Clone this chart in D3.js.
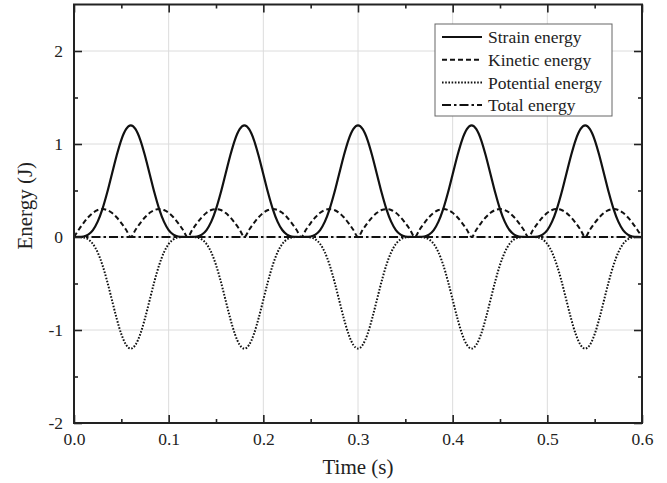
<!DOCTYPE html>
<html>
<head>
<meta charset="utf-8">
<script src="https://cdn.jsdelivr.net/npm/d3@7"></script>
<style>
  body { margin: 0; background: #fff; }
  svg { display: block; font-family: "Liberation Serif", "Times New Roman", "DejaVu Serif", serif; }
  .tick text { font-size: 17.5px; fill: #222; }
</style>
</head>
<body>
<svg id="chart" width="667" height="483"></svg>
<script>
// sampling grid (s), every 0.005 s
const time = d3.range(0, 121).map(i => +(i * 0.005).toFixed(3));

// energies (J) at each time sample
const strainEnergy = [
  0, 0.0003, 0.005, 0.026, 0.075, 0.165, 0.30, 0.475, 0.675, 0.874, 1.045, 1.159, 1.2, 1.159, 1.045, 0.874, 0.675, 0.475, 0.30, 0.165, 0.075, 0.026, 0.005, 0.0003,
  0, 0.0003, 0.005, 0.026, 0.075, 0.165, 0.30, 0.475, 0.675, 0.874, 1.045, 1.159, 1.2, 1.159, 1.045, 0.874, 0.675, 0.475, 0.30, 0.165, 0.075, 0.026, 0.005, 0.0003,
  0, 0.0003, 0.005, 0.026, 0.075, 0.165, 0.30, 0.475, 0.675, 0.874, 1.045, 1.159, 1.2, 1.159, 1.045, 0.874, 0.675, 0.475, 0.30, 0.165, 0.075, 0.026, 0.005, 0.0003,
  0, 0.0003, 0.005, 0.026, 0.075, 0.165, 0.30, 0.475, 0.675, 0.874, 1.045, 1.159, 1.2, 1.159, 1.045, 0.874, 0.675, 0.475, 0.30, 0.165, 0.075, 0.026, 0.005, 0.0003,
  0, 0.0003, 0.005, 0.026, 0.075, 0.165, 0.30, 0.475, 0.675, 0.874, 1.045, 1.159, 1.2, 1.159, 1.045, 0.874, 0.675, 0.475, 0.30, 0.165, 0.075, 0.026, 0.005, 0.0003,
  0
];

const kineticEnergy = [
  0, 0.078, 0.15, 0.212, 0.26, 0.29, 0.3, 0.29, 0.26, 0.212, 0.15, 0.078,
  0, 0.078, 0.15, 0.212, 0.26, 0.29, 0.3, 0.29, 0.26, 0.212, 0.15, 0.078,
  0, 0.078, 0.15, 0.212, 0.26, 0.29, 0.3, 0.29, 0.26, 0.212, 0.15, 0.078,
  0, 0.078, 0.15, 0.212, 0.26, 0.29, 0.3, 0.29, 0.26, 0.212, 0.15, 0.078,
  0, 0.078, 0.15, 0.212, 0.26, 0.29, 0.3, 0.29, 0.26, 0.212, 0.15, 0.078,
  0, 0.078, 0.15, 0.212, 0.26, 0.29, 0.3, 0.29, 0.26, 0.212, 0.15, 0.078,
  0, 0.078, 0.15, 0.212, 0.26, 0.29, 0.3, 0.29, 0.26, 0.212, 0.15, 0.078,
  0, 0.078, 0.15, 0.212, 0.26, 0.29, 0.3, 0.29, 0.26, 0.212, 0.15, 0.078,
  0, 0.078, 0.15, 0.212, 0.26, 0.29, 0.3, 0.29, 0.26, 0.212, 0.15, 0.078,
  0, 0.078, 0.15, 0.212, 0.26, 0.29, 0.3, 0.29, 0.26, 0.212, 0.15, 0.078,
  0
];

const potentialEnergy = [
  0, -0.0003, -0.005, -0.026, -0.075, -0.165, -0.30, -0.475, -0.675, -0.874, -1.045, -1.159, -1.2, -1.159, -1.045, -0.874, -0.675, -0.475, -0.30, -0.165, -0.075, -0.026, -0.005, -0.0003,
  0, -0.0003, -0.005, -0.026, -0.075, -0.165, -0.30, -0.475, -0.675, -0.874, -1.045, -1.159, -1.2, -1.159, -1.045, -0.874, -0.675, -0.475, -0.30, -0.165, -0.075, -0.026, -0.005, -0.0003,
  0, -0.0003, -0.005, -0.026, -0.075, -0.165, -0.30, -0.475, -0.675, -0.874, -1.045, -1.159, -1.2, -1.159, -1.045, -0.874, -0.675, -0.475, -0.30, -0.165, -0.075, -0.026, -0.005, -0.0003,
  0, -0.0003, -0.005, -0.026, -0.075, -0.165, -0.30, -0.475, -0.675, -0.874, -1.045, -1.159, -1.2, -1.159, -1.045, -0.874, -0.675, -0.475, -0.30, -0.165, -0.075, -0.026, -0.005, -0.0003,
  0, -0.0003, -0.005, -0.026, -0.075, -0.165, -0.30, -0.475, -0.675, -0.874, -1.045, -1.159, -1.2, -1.159, -1.045, -0.874, -0.675, -0.475, -0.30, -0.165, -0.075, -0.026, -0.005, -0.0003,
  0
];

// total energy stays at zero
const totalTime = [0, 0.1, 0.2, 0.3, 0.4, 0.5, 0.6];
const totalEnergy = [0, 0, 0, 0, 0, 0, 0];

const xTicks = [0, 0.1, 0.2, 0.3, 0.4, 0.5, 0.6];
const xMinor = [0.05, 0.15, 0.25, 0.35, 0.45, 0.55];
const yTicks = [-2, -1, 0, 1, 2];
const yMinor = [-1.5, -0.5, 0.5, 1.5];

const seriesNames = ["Strain energy", "Kinetic energy", "Potential energy", "Total energy"];
const dashes = [null, "5,3", "1.6,1.6", "9,3,2.5,3"];

const W = 667, H = 483;
const margin = {top: 4.5, right: 25, bottom: 60, left: 74};
const serif = "'Liberation Serif', 'Times New Roman', 'DejaVu Serif', serif";

const svg = d3.select("#chart");

const x = d3.scaleLinear().domain([0, 0.6]).range([margin.left, W - margin.right]);
const y = d3.scaleLinear().domain([-2, 2.5]).range([H - margin.bottom, margin.top]);

// grid
svg.append("g")
  .selectAll("line")
  .data(xTicks.slice(1, -1))
  .enter()
  .append("line")
  .attr("x1", d => x(d)).attr("x2", d => x(d))
  .attr("y1", y(-2)).attr("y2", y(2.5))
  .attr("stroke", "#dcdcdc").attr("stroke-width", 1);

svg.append("g")
  .selectAll("line")
  .data(yTicks.slice(1))
  .enter()
  .append("line")
  .attr("x1", x(0)).attr("x2", x(0.6))
  .attr("y1", d => y(d)).attr("y2", d => y(d))
  .attr("stroke", "#dcdcdc").attr("stroke-width", 1);

// curves
const seriesData = [
  time.map((t, i) => [t, strainEnergy[i]]),
  time.map((t, i) => [t, kineticEnergy[i]]),
  time.map((t, i) => [t, potentialEnergy[i]]),
  totalTime.map((t, i) => [t, totalEnergy[i]])
];

const line = d3.line()
  .x(d => x(d[0]))
  .y(d => y(d[1]))
  .curve(d3.curveMonotoneX);

seriesData.forEach((s, i) => {
  svg.append("path")
    .datum(s)
    .attr("d", line)
    .attr("fill", "none")
    .attr("stroke", "#111")
    .attr("stroke-width", i === 0 ? 2.2 : 2)
    .attr("stroke-dasharray", dashes[i]);
});

// axes, ticks pointing inward on all four sides
function styleAxis(g) {
  g.attr("font-family", serif).attr("font-size", null);
  g.select(".domain").remove();
  g.selectAll(".tick line").attr("stroke", "#222").attr("stroke-width", 1.6);
}

const fmtX = d3.format(".1f");
const fmtY = d => String(d);

svg.append("g")
  .attr("transform", `translate(0,${y(-2)})`)
  .call(d3.axisBottom(x).tickValues(xTicks).tickSize(-8).tickFormat(fmtX))
  .call(styleAxis)
  .call(g => g.selectAll(".tick text").attr("dy", "0.71em").attr("y", 10));

svg.append("g")
  .attr("transform", `translate(0,${y(-2)})`)
  .call(d3.axisBottom(x).tickValues(xMinor).tickSize(-4).tickFormat(""))
  .call(styleAxis);

svg.append("g")
  .attr("transform", `translate(0,${y(2.5)})`)
  .call(d3.axisTop(x).tickValues(xTicks).tickSize(-8).tickFormat(""))
  .call(styleAxis);

svg.append("g")
  .attr("transform", `translate(0,${y(2.5)})`)
  .call(d3.axisTop(x).tickValues(xMinor).tickSize(-4).tickFormat(""))
  .call(styleAxis);

svg.append("g")
  .attr("transform", `translate(${x(0)},0)`)
  .call(d3.axisLeft(y).tickValues(yTicks).tickSize(-8).tickFormat(fmtY))
  .call(styleAxis)
  .call(g => g.selectAll(".tick text").attr("x", -11));

svg.append("g")
  .attr("transform", `translate(${x(0)},0)`)
  .call(d3.axisLeft(y).tickValues(yMinor).tickSize(-4).tickFormat(""))
  .call(styleAxis);

svg.append("g")
  .attr("transform", `translate(${x(0.6)},0)`)
  .call(d3.axisRight(y).tickValues(yTicks).tickSize(-8).tickFormat(""))
  .call(styleAxis);

svg.append("g")
  .attr("transform", `translate(${x(0.6)},0)`)
  .call(d3.axisRight(y).tickValues(yMinor).tickSize(-4).tickFormat(""))
  .call(styleAxis);

// frame
svg.append("rect")
  .attr("x", x(0)).attr("y", y(2.5))
  .attr("width", x(0.6) - x(0)).attr("height", y(-2) - y(2.5))
  .attr("fill", "none").attr("stroke", "#222").attr("stroke-width", 2);

// axis titles
svg.append("text")
  .attr("x", (x(0) + x(0.6)) / 2)
  .attr("y", 474)
  .attr("text-anchor", "middle")
  .attr("font-family", serif)
  .style("font-size", "21px").attr("fill", "#222")
  .text("Time (s)");

svg.append("text")
  .attr("transform", `translate(32,${(y(-2) + y(2.5)) / 2 - 8}) rotate(-90)`)
  .attr("text-anchor", "middle")
  .attr("font-family", serif)
  .style("font-size", "21px").attr("fill", "#222")
  .text("Energy (J)");

// legend
const legend = svg.append("g").attr("transform", "translate(435,24)");

legend.append("rect")
  .attr("width", 177).attr("height", 92)
  .attr("fill", "#fff").attr("stroke", "#666").attr("stroke-width", 1);

seriesNames.forEach((name, i) => {
  const row = legend.append("g").attr("transform", `translate(0,${13 + i * 22.7})`);
  row.append("line")
    .attr("x1", 7).attr("x2", 47)
    .attr("stroke", "#111").attr("stroke-width", 2)
    .attr("stroke-dasharray", dashes[i]);
  row.append("text")
    .attr("x", 53).attr("dy", "0.35em")
    .attr("font-family", serif)
    .style("font-size", "17.5px").attr("fill", "#222")
    .text(name);
});
</script>
</body>
</html>
